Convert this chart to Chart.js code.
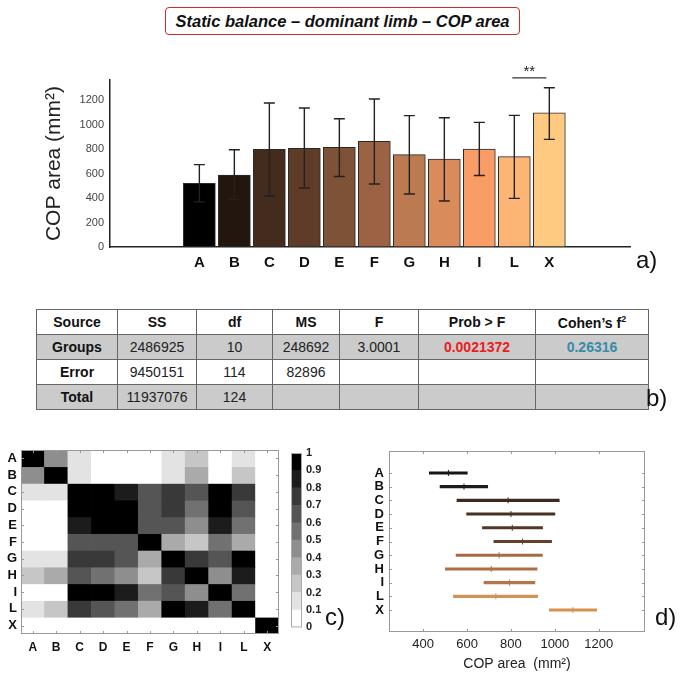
<!DOCTYPE html>
<html>
<head>
<meta charset="utf-8">
<script src="https://cdn.jsdelivr.net/npm/chart.js@4/dist/chart.umd.min.js"></script>
<style>
  body { margin: 0; width: 683px; height: 679px; position: relative; background: #fff; overflow: hidden; font-family: Arial, "Liberation Sans", sans-serif; }
  canvas { position: absolute; }
  #title { position: absolute; left: 165px; top: 7px; width: 353px; height: 26px; border: 1.5px solid #d22a2a; border-radius: 4px;
           font: italic bold 16.5px Arial, "Liberation Sans", sans-serif; text-align: center; line-height: 26px; color: #111; white-space: nowrap; }
  .tag { position: absolute; font: 24px Arial, "Liberation Sans", sans-serif; color: #111; line-height: 24px; }
  #anova { position: absolute; left: 36px; top: 309px; border-collapse: collapse; font: 14px Arial, "Liberation Sans", sans-serif; color: #222; table-layout: fixed; width: 605px; }
  #anova td { border: 1.5px solid #666; height: 24px; padding: 0; text-align: center; }
  #anova tr.grey td { background: #cbcbcb; }
  #anova .b { font-weight: bold; color: #111; }
</style>
</head>
<body>
<div id="title">Static balance – dominant limb – COP area</div>

<canvas id="barChart" width="660" height="220" style="left:0;top:60px"></canvas>
<div class="tag" style="left:636px;top:248px">a)</div>

<table id="anova"></table>
<div class="tag" style="left:646px;top:386px">b)</div>

<canvas id="heatChart" width="290" height="240" style="left:0;top:430px"></canvas>
<canvas id="scaleChart" width="51" height="205" style="left:291px;top:433px"></canvas>
<div class="tag" style="left:325px;top:605px">c)</div>

<canvas id="cmpChart" width="343" height="249" style="left:340px;top:430px"></canvas>
<div class="tag" style="left:655px;top:605px">d)</div>

<script>
// groups
const cats = ["A", "B", "C", "D", "E", "F", "G", "H", "I", "L", "X"];

// a) mean COP area with error bars
const barMeans = [520, 588, 797, 805, 814, 863, 754, 718, 800, 737, 1096];
const barUpper = [672, 794, 1175, 1134, 1047, 1208, 1072, 1055, 1017, 1074, 1300];
const barLower = [368, 389, 416, 482, 576, 514, 432, 375, 584, 397, 878];
const barColors = ["#000000", "#22160e", "#432b1d", "#5e3c28", "#7e5236", "#9b6344",
                   "#bb7a50", "#d98b5c", "#f99d66", "#fdb575", "#fec981"];
const yTicksA = [0, 200, 400, 600, 800, 1000, 1200];

// b) ANOVA table
const anovaHead = ["Source", "SS", "df", "MS", "F", "Prob > F", "Cohen's f²"];
const anovaRows = [
  ["Groups", "2486925", "10", "248692", "3.0001", "0.0021372", "0.26316"],
  ["Error", "9450151", "114", "82896", "", "", ""],
  ["Total", "11937076", "124", "", "", "", ""]
];
const colWidths = [80, 78, 75, 66, 78, 116, 112];

// c) pairwise matrix (0..1)
const pairMatrix = [
  [1,    0.45, 0.15, 0,    0,    0,    0.15, 0.25, 0,    0.15, 0],
  [0.45, 1,    0.15, 0,    0,    0,    0.15, 0.35, 0,    0.25, 0],
  [0.15, 0.15, 1,    1,    0.85, 0.65, 0.75, 0.65, 1,    0.75, 0],
  [0,    0,    1,    1,    1,    0.65, 0.75, 0.55, 1,    0.65, 0],
  [0,    0,    0.85, 1,    1,    0.65, 0.65, 0.45, 0.85, 0.55, 0],
  [0,    0,    0.65, 0.65, 0.65, 1,    0.35, 0.25, 0.55, 0.35, 0],
  [0.15, 0.15, 0.75, 0.75, 0.65, 0.35, 1,    0.75, 0.65, 1,    0],
  [0.25, 0.35, 0.65, 0.55, 0.45, 0.25, 0.75, 1,    0.45, 0.85, 0],
  [0,    0,    1,    1,    0.85, 0.55, 0.65, 0.45, 1,    0.55, 0],
  [0.15, 0.25, 0.75, 0.65, 0.55, 0.35, 1,    0.85, 0.55, 1,    0],
  [0,    0,    0,    0,    0,    0,    0,    0,    0,    0,    1]
];
const scaleSteps = [0, 0.1, 0.2, 0.3, 0.4, 0.5, 0.6, 0.7, 0.8, 0.9, 1];

// d) multiple comparison intervals
const cmpLow  = [428, 477, 554, 598, 670, 722, 550, 501, 677, 538, 975];
const cmpMean = [515, 586, 787, 800, 806, 853, 746, 710, 793, 731, 1082];
const cmpHigh = [601, 694, 1020, 1000, 944, 985, 943, 919, 909, 921, 1190];
const cmpColors = ["#151515", "#1e1a18", "#3a2a20", "#463022", "#543626", "#654028",
                   "#a86a44", "#b06c42", "#b87448", "#d09258", "#d8904e"];
const xTicksD = [400, 600, 800, 1000, 1200];

const FONT = "Arial, 'Liberation Sans', sans-serif";
Chart.defaults.font.family = FONT;
Chart.defaults.animation = false;

function grey(v) {
  const k = Math.min(9, Math.floor(v * 10 + 1e-9));
  const g = Math.round(255 * (1 - k / 9));
  return "rgb(" + g + "," + g + "," + g + ")";
}

// ---------- table
const tbl = document.getElementById("anova");
let html = "<tr>" + anovaHead.map((h, j) => '<td class="b" style="width:' + colWidths[j] + 'px">' +
  (h === "Cohen's f²" ? "Cohen’s f<sup style='font-size:9px'>2</sup>" : h.replace(">", "&gt;")) + "</td>").join("") + "</tr>";
anovaRows.forEach((r, i) => {
  html += '<tr class="' + (i !== 1 ? "grey" : "") + '">' + r.map((c, j) => {
    let st = "";
    if (j === 0) st = ' class="b"';
    if (i === 0 && j === 5) st = ' style="color:#e8201c;font-weight:bold"';
    if (i === 0 && j === 6) st = ' style="color:#3a8aa6;font-weight:bold"';
    return "<td" + st + ">" + c + "</td>";
  }).join("") + "</tr>";
});
tbl.innerHTML = html;

// ---------- plugins
const errorBars = {
  id: "errorBars",
  afterDatasetsDraw(chart) {
    const { ctx, scales: { x, y } } = chart;
    ctx.save();
    ctx.strokeStyle = "#222";
    ctx.lineWidth = 1.4;
    cats.forEach((c, i) => {
      const px = x.getPixelForValue(i);
      const hi = y.getPixelForValue(barUpper[i]);
      const lo = y.getPixelForValue(barLower[i]);
      ctx.beginPath();
      ctx.moveTo(px, hi); ctx.lineTo(px, lo);
      ctx.moveTo(px - 5.5, hi); ctx.lineTo(px + 5.5, hi);
      ctx.moveTo(px - 5.5, lo); ctx.lineTo(px + 5.5, lo);
      ctx.stroke();
    });
    // significance mark between L and X
    const x1 = x.getPixelForValue(9) - 2, x2 = x.getPixelForValue(10) - 3;
    const yy = y.getPixelForValue(1380);
    ctx.strokeStyle = "#333";
    ctx.beginPath(); ctx.moveTo(x1, yy); ctx.lineTo(x2, yy); ctx.stroke();
    ctx.fillStyle = "#222";
    ctx.font = "15px " + FONT;
    ctx.textAlign = "center";
    ctx.textBaseline = "bottom";
    ctx.fillText("**", (x1 + x2) / 2, yy + 1);
    ctx.restore();
  }
};

const boxFrame = {
  id: "boxFrame",
  afterDraw(chart, args, opts) {
    const { ctx, chartArea: a, scales } = chart;
    ctx.save();
    ctx.strokeStyle = opts.color || "#999";
    ctx.lineWidth = 1;
    ctx.strokeRect(a.left + 0.5, a.top + 0.5, a.width - 1, a.height - 1);
    const t = opts.tick || 0;
    if (t) {
      ctx.beginPath();
      const sx = scales.x, sy = scales.y;
      if (sx && sx.options.display !== false) sx.ticks.forEach((tk, i) => {
        const p = Math.round(sx.getPixelForTick(i)) + 0.5;
        ctx.moveTo(p, a.bottom); ctx.lineTo(p, a.bottom - t);
        ctx.moveTo(p, a.top); ctx.lineTo(p, a.top + t);
      });
      if (sy) sy.ticks.forEach((tk, i) => {
        const p = Math.round(sy.getPixelForTick(i)) + 0.5;
        if (!opts.noLeft) { ctx.moveTo(a.left, p); ctx.lineTo(a.left + t, p); }
        ctx.moveTo(a.right, p); ctx.lineTo(a.right - t, p);
      });
      ctx.stroke();
    }
    ctx.restore();
  }
};

// ---------- a) bar chart
new Chart(document.getElementById("barChart"), {
  type: "bar",
  data: {
    datasets: [{
      data: barMeans.map((v, i) => ({ x: i, y: v })),
      backgroundColor: barColors,
      borderColor: "#2a2a2a",
      borderWidth: 1,
      borderSkipped: false,
      barThickness: 32
    }]
  },
  options: {
    responsive: false,
    layout: { padding: { top: 20, right: 30, left: 0, bottom: 0 } },
    plugins: { legend: { display: false }, tooltip: { enabled: false } },
    scales: {
      x: {
        type: "linear", min: -1.878, max: 11.63,
        afterBuildTicks: s => { s.ticks = cats.map((c, i) => ({ value: i })); },
        afterFit: s => { s.height = 33; },
        grid: { display: false, drawTicks: false },
        border: { color: "#222", width: 1.5 },
        ticks: { callback: v => cats[v], color: "#111", font: { size: 15, weight: "bold" }, padding: 7, autoSkip: false, maxRotation: 0 }
      },
      y: {
        min: 0, max: 1363,
        afterBuildTicks: s => { s.ticks = yTicksA.map(v => ({ value: v })); },
        afterFit: s => { s.width = 110; },
        grid: { display: false, drawTicks: false },
        border: { color: "#222", width: 1.5 },
        ticks: { callback: v => String(v), color: "#444", font: { size: 11 }, padding: 6, autoSkip: false },
        title: { display: true, text: "COP area (mm²)", color: "#222", font: { size: 21 }, padding: { top: 42, bottom: 0 } }
      }
    }
  },
  plugins: [errorBars]
});

// ---------- c) heat map
new Chart(document.getElementById("heatChart"), {
  type: "bar",
  data: {
    labels: cats,
    datasets: pairMatrix.map((row, i) => ({
      data: row.map(() => [i, i + 1]),
      backgroundColor: row.map(v => grey(v)),
      borderWidth: 0
    }))
  },
  options: {
    responsive: false,
    layout: { padding: { top: 20, right: 11, left: 0, bottom: 0 } },
    plugins: { legend: { display: false }, tooltip: { enabled: false }, boxFrame: { color: "#999", tick: 3 } },
    datasets: { bar: { grouped: false, barPercentage: 1, categoryPercentage: 1 } },
    scales: {
      x: {
        afterFit: s => { s.height = 36; },
        grid: { display: false, drawTicks: false },
        border: { display: false },
        ticks: { color: "#111", font: { size: 12, weight: "bold" }, padding: 6, autoSkip: false, maxRotation: 0 }
      },
      y: {
        min: 0, max: 11, reverse: true,
        afterBuildTicks: s => { s.ticks = cats.map((c, i) => ({ value: i + 0.5 })); },
        afterFit: s => { s.width = 21; },
        grid: { display: false, drawTicks: false },
        border: { display: false },
        ticks: { callback: v => cats[Math.floor(v)], color: "#111", font: { size: 13, weight: "bold" }, padding: 4, autoSkip: false }
      }
    }
  },
  plugins: [boxFrame]
});

// ---------- c) colour scale
new Chart(document.getElementById("scaleChart"), {
  type: "bar",
  data: {
    labels: ["p"],
    datasets: scaleSteps.slice(0, -1).map((s, k) => ({
      data: [[s, scaleSteps[k + 1]]],
      backgroundColor: grey(s + 0.05),
      borderWidth: 0
    }))
  },
  options: {
    responsive: false,
    layout: { padding: { top: 20, right: 0, left: 0, bottom: 10 } },
    plugins: { legend: { display: false }, tooltip: { enabled: false }, boxFrame: { color: "#aaa", tick: 0 } },
    datasets: { bar: { grouped: false, barPercentage: 1, categoryPercentage: 1 } },
    scales: {
      x: { display: false },
      y: {
        position: "right", min: 0, max: 1,
        afterBuildTicks: s => { s.ticks = scaleSteps.map(v => ({ value: v })); },
        afterFit: s => { s.width = 40; },
        grid: { display: false, drawTicks: false },
        border: { display: false },
        ticks: { callback: v => String(Math.round(v * 10) / 10), color: "#222", font: { size: 11, weight: "bold" }, padding: 4, autoSkip: false }
      }
    }
  },
  plugins: [boxFrame]
});

// ---------- d) comparison intervals
new Chart(document.getElementById("cmpChart"), {
  type: "bar",
  data: {
    datasets: [{
      type: "bar",
      indexAxis: "y",
      data: cats.map((c, i) => ({ x: [cmpLow[i], cmpHigh[i]], y: i + 1 })),
      backgroundColor: cmpColors,
      borderWidth: 0,
      barThickness: 2.4
    }, {
      type: "scatter",
      data: cats.map((c, i) => ({ x: cmpMean[i], y: i + 1 })),
      pointStyle: "line",
      rotation: 90,
      radius: 3,
      borderWidth: 1,
      borderColor: cmpColors,
      backgroundColor: cmpColors
    }]
  },
  options: {
    responsive: false,
    layout: { padding: { top: 21, right: 38, left: 0, bottom: 0 } },
    plugins: { legend: { display: false }, tooltip: { enabled: false }, boxFrame: { color: "#999", tick: 3 } },
    scales: {
      x: {
        type: "linear", min: 361, max: 1294,
        afterBuildTicks: s => { s.ticks = xTicksD.map(v => ({ value: v })); },
        afterFit: s => { s.height = 47; },
        grid: { display: false, drawTicks: false },
        border: { display: false },
        ticks: { callback: v => String(v), color: "#222", font: { size: 13 }, padding: 5, autoSkip: false, maxRotation: 0 },
        title: { display: true, text: "COP area  (mm²)", color: "#222", font: { size: 14 }, padding: { top: 0, bottom: 6 } }
      },
      y: {
        type: "linear", min: 0, max: 12, reverse: true,
        afterBuildTicks: s => { s.ticks = cats.map((c, i) => ({ value: i + 1 })); },
        afterFit: s => { s.width = 49; },
        grid: { display: false, drawTicks: false },
        border: { display: false },
        ticks: { callback: v => cats[v - 1], color: "#111", font: { size: 13, weight: "bold" }, padding: 5, autoSkip: false }
      }
    }
  },
  plugins: [boxFrame]
});
</script>
</body>
</html>
